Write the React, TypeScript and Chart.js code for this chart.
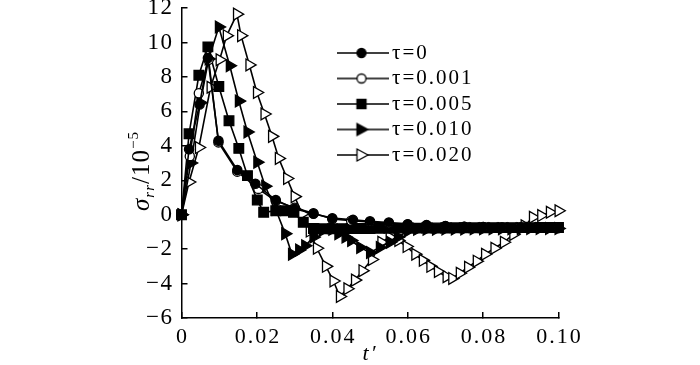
import React, { useEffect, useRef } from 'react';
import { Chart, registerables } from 'chart.js';

Chart.register(...registerables);

// ---- data ----
const SERIES_LABELS = ['τ=0', 'τ=0.001', 'τ=0.005', 'τ=0.010', 'τ=0.020'];

const T_TAU0 = [0, 0.002, 0.0048, 0.007, 0.0098, 0.0148, 0.0196, 0.025, 0.030, 0.035, 0.040, 0.0455, 0.050, 0.055, 0.060, 0.065, 0.070, 0.075, 0.080, 0.085, 0.090, 0.095, 0.100];
const V_TAU0 = [0, 3.8, 6.4, 9.1, 4.3, 2.6, 1.8, 0.85, 0.35, 0.05, -0.2, -0.3, -0.38, -0.45, -0.55, -0.6, -0.65, -0.7, -0.72, -0.74, -0.75, -0.76, -0.77];

const T_TAU001 = [0, 0.0022, 0.0046, 0.0072, 0.0098, 0.0148, 0.0204, 0.025, 0.030, 0.035, 0.040, 0.045, 0.050, 0.055, 0.060, 0.065, 0.070, 0.075, 0.080, 0.085, 0.090, 0.095, 0.100];
const V_TAU001 = [0, 3.4, 7.05, 9.0, 4.2, 2.5, 1.5, 0.8, 0.4, 0.08, -0.25, -0.35, -0.42, -0.5, -0.57, -0.62, -0.67, -0.7, -0.72, -0.74, -0.75, -0.76, -0.77];

const T_TAU005 = [0, 0.002, 0.0046, 0.007, 0.0099, 0.0126, 0.0152, 0.0175, 0.0201, 0.0218, 0.025, 0.0275, 0.0297, 0.0323, 0.035,
  0.0375, 0.040, 0.0425, 0.045, 0.0475, 0.050, 0.0525, 0.055, 0.0575, 0.060, 0.0625, 0.065, 0.0675, 0.070, 0.0725, 0.075,
  0.0775, 0.080, 0.0825, 0.085, 0.0875, 0.090, 0.0925, 0.095, 0.0975, 0.100];
const V_TAU005 = [0, 4.7, 8.1, 9.75, 7.45, 5.46, 3.85, 2.27, 0.85, 0.14, 0.23, 0.23, 0.14, -0.44, -0.8,
  -0.82, -0.82, -0.81, -0.8, -0.8, -0.8, -0.79, -0.79, -0.78, -0.78, -0.78, -0.77, -0.77, -0.77, -0.76, -0.76,
  -0.76, -0.76, -0.75, -0.75, -0.75, -0.75, -0.75, -0.74, -0.74, -0.74];

const T_TAU010 = [0, 0.0025, 0.005, 0.0072, 0.0099, 0.0128, 0.0152, 0.0175, 0.0201, 0.0222, 0.025, 0.0275, 0.0293, 0.0312, 0.0328,
  0.035, 0.0375, 0.040, 0.0416, 0.0435, 0.045, 0.0474, 0.050, 0.0526, 0.0553, 0.0574, 0.060, 0.0625, 0.065, 0.0675, 0.070,
  0.0725, 0.075, 0.0775, 0.080, 0.0825, 0.085, 0.0875, 0.090, 0.0925, 0.095, 0.0975, 0.100];
const V_TAU010 = [0, 3.0, 6.5, 9.05, 10.9, 8.65, 6.6, 4.8, 3.05, 1.65, 0.3, -1.1, -2.3, -2.05, -1.8,
  -1.3, -0.9, -0.85, -1.1, -1.3, -1.5, -1.9, -2.2, -1.9, -1.6, -1.3, -0.95, -0.85, -0.84, -0.84, -0.83,
  -0.83, -0.83, -0.82, -0.82, -0.82, -0.81, -0.81, -0.81, -0.8, -0.8, -0.8, -0.8];

const T_TAU020 = [0, 0.002, 0.0046, 0.0077, 0.0101, 0.012, 0.0147, 0.0158, 0.018, 0.020, 0.022, 0.024, 0.0258, 0.028, 0.030,
  0.032, 0.034, 0.0359, 0.0383, 0.0403, 0.042, 0.044, 0.046, 0.048, 0.0505, 0.053, 0.0552, 0.0575, 0.0597, 0.062, 0.064,
  0.066, 0.068, 0.0703, 0.0718, 0.0738, 0.076, 0.0783, 0.0805, 0.083, 0.0855, 0.088, 0.091, 0.0932, 0.0954, 0.0977, 0.100];
const V_TAU020 = [0, 1.9, 3.9, 7.4, 9.0, 10.4, 11.65, 10.4, 8.7, 7.1, 5.85, 4.55, 3.27, 2.1, 1.05,
  0.05, -0.95, -1.95, -3.0, -3.85, -4.75, -4.3, -3.8, -3.25, -2.6, -1.6, -1.3, -1.5, -1.85, -2.3, -2.65,
  -3.0, -3.3, -3.6, -3.7, -3.4, -3.05, -2.7, -2.3, -1.95, -1.6, -1.15, -0.64, -0.15, -0.05, 0.14, 0.23];

const X_TICKS = [0, 0.02, 0.04, 0.06, 0.08, 0.1];
const X_TICK_LABELS = ['0', '0.02', '0.04', '0.06', '0.08', '0.10'];
const Y_TICKS = [-6, -4, -2, 0, 2, 4, 6, 8, 10, 12];
const Y_TICK_LABELS = ['−6', '−4', '−2', '0', '2', '4', '6', '8', '10', '12'];

const FONT = "'Liberation Serif', 'Times New Roman', serif";

function pts(t: number[], v: number[]) {
  return t.map((x, i) => ({ x, y: v[i] }));
}

function legendIcon(kind: string): HTMLCanvasElement {
  const c = document.createElement('canvas');
  c.width = 54;
  c.height = 16;
  const g = c.getContext('2d') as CanvasRenderingContext2D;
  g.strokeStyle = '#000';
  g.lineWidth = 1.6;
  g.beginPath();
  g.moveTo(0, 8);
  g.lineTo(54, 8);
  g.stroke();
  const cx = 27, cy = 8;
  g.lineWidth = 1.3;
  g.beginPath();
  if (kind === 'circle' || kind === 'ocircle') g.arc(cx, cy, 4.5, 0, Math.PI * 2);
  else if (kind === 'square') g.rect(cx - 4.5, cy - 4.5, 9, 9);
  else { g.moveTo(cx + 6.5, cy); g.lineTo(cx - 4.5, cy - 6); g.lineTo(cx - 4.5, cy + 6); g.closePath(); }
  g.fillStyle = kind === 'ocircle' || kind === 'otri' ? '#fff' : '#000';
  g.fill();
  g.stroke();
  return c;
}

export default function App() {
  const ref = useRef<HTMLCanvasElement>(null);

  useEffect(() => {
    if (!ref.current) return;
    const icons = ['circle', 'ocircle', 'square', 'tri', 'otri'].map(legendIcon);

    const common = {
      borderColor: '#000',
      borderWidth: 1.6,
      pointBorderColor: '#000',
      pointBorderWidth: 1.3,
      tension: 0,
      fill: false,
      clip: false as any,
    };

    const helperPlugin = {
      id: 'helper',
      beforeDraw(chart: any) {
        chart.ctx.letterSpacing = '2px';
        const L = chart.legend;
        if (L) {
          L.left = 337;
          L.top = 38;
          L.right = 640;
          L.bottom = 260;
          L.width = 303;
          L.height = 222;
        }
      },
      afterDatasetsDraw(chart: any) {
        chart.ctx.letterSpacing = '1.5px';
      },
      afterDraw(chart: any) {
        const ctx = chart.ctx as CanvasRenderingContext2D;
        ctx.save();
        (ctx as any).letterSpacing = '1px';
        ctx.fillStyle = '#000';
        ctx.translate(141, 171);
        ctx.rotate(-Math.PI / 2);
        ctx.textBaseline = 'alphabetic';
        ctx.textAlign = 'left';
        const parts = [
          { t: 'σ', f: `italic 25px ${FONT}`, dy: 0 },
          { t: 'rr', f: `italic 15px ${FONT}`, dy: 5 },
          { t: '/10', f: `25px ${FONT}`, dy: 0 },
          { t: '−5', f: `15px ${FONT}`, dy: -11 },
        ];
        let total = 0;
        const widths = parts.map((p) => { ctx.font = p.f; const w = ctx.measureText(p.t).width; total += w; return w; });
        let x = -total / 2;
        parts.forEach((p, i) => { ctx.font = p.f; ctx.fillText(p.t, x, 8 + p.dy); x += widths[i]; });
        ctx.restore();
        (ctx as any).letterSpacing = '0px';
      },
    };

    const chart = new Chart(ref.current, {
      type: 'line',
      data: {
        datasets: [
          { ...common, label: SERIES_LABELS[0], data: pts(T_TAU0, V_TAU0), pointStyle: 'circle', pointRadius: 4.6, pointBackgroundColor: '#000' },
          { ...common, label: SERIES_LABELS[1], data: pts(T_TAU001, V_TAU001), pointStyle: 'circle', pointRadius: 4.6, pointBackgroundColor: '#fff' },
          { ...common, label: SERIES_LABELS[2], data: pts(T_TAU005, V_TAU005), pointStyle: 'rect', pointRadius: 6.8, pointBackgroundColor: '#000' },
          { ...common, label: SERIES_LABELS[3], data: pts(T_TAU010, V_TAU010), pointStyle: 'triangle', pointRotation: 90, pointRadius: 6.8, pointBackgroundColor: '#000' },
          { ...common, label: SERIES_LABELS[4], data: pts(T_TAU020, V_TAU020), pointStyle: 'triangle', pointRotation: 90, pointRadius: 6.8, pointBackgroundColor: '#fff' },
        ] as any,
      },
      options: {
        animation: false,
        responsive: false,
        devicePixelRatio: 1,
        events: [],
        layout: { padding: { left: 0, right: 141.5, top: 8, bottom: 0 } },
        plugins: {
          tooltip: { enabled: false },
          legend: {
            position: 'chartArea' as any,
            align: 'start',
            labels: {
              usePointStyle: true,
              pointStyleWidth: 40,
              padding: 4.5,
              color: '#000',
              font: { family: FONT, size: 21 },
              generateLabels: () =>
                SERIES_LABELS.map((text, i) => ({
                  text,
                  pointStyle: icons[i] as any,
                  fillStyle: '#000',
                  strokeStyle: '#000',
                  lineWidth: 0,
                  hidden: false,
                  datasetIndex: i,
                  fontColor: '#000',
                })),
            },
          },
        },
        scales: {
          x: {
            type: 'linear',
            min: 0,
            max: 0.1,
            afterBuildTicks: (s: any) => { s.ticks = X_TICKS.map((value) => ({ value })); },
            afterFit: (s: any) => { s.height = 47; s.paddingLeft = 0; s.paddingRight = 0; },
            grid: { drawOnChartArea: false, drawTicks: true, tickLength: -6, color: '#000', lineWidth: 1.5 },
            border: { display: true, color: '#000', width: 1.5 },
            ticks: {
              callback: (_v: any, i: number) => X_TICK_LABELS[i],
              color: '#000',
              font: { family: FONT, size: 22 },
              padding: 12,
              labelOffset: 1,
              maxRotation: 0,
              autoSkip: false,
            },
            title: {
              display: true,
              text: 't′',
              color: '#000',
              font: { family: FONT, size: 22, style: 'italic', lineHeight: 1 },
              padding: { top: 0, bottom: 0 },
            },
          },
          y: {
            type: 'linear',
            min: -6,
            max: 12,
            afterBuildTicks: (s: any) => { s.ticks = Y_TICKS.map((value) => ({ value })); },
            afterFit: (s: any) => { s.width = 181.5; s.paddingTop = 0; s.paddingBottom = 0; },
            grid: { drawOnChartArea: false, drawTicks: true, tickLength: -6, color: '#000', lineWidth: 1.5 },
            border: { display: true, color: '#000', width: 1.5 },
            ticks: {
              callback: (_v: any, i: number) => Y_TICK_LABELS[i],
              color: '#000',
              font: { family: FONT, size: 23 },
              padding: 14,
              z: 1,
              autoSkip: false,
            },
          },
        },
      } as any,
      plugins: [helperPlugin],
    });

    return () => chart.destroy();
  }, []);

  return (
    <div style={{ position: 'absolute', left: 0, top: 0, width: 700, height: 365, background: '#fff' }}>
      <canvas ref={ref} width={700} height={365} style={{ display: 'block', width: 700, height: 365 }} />
    </div>
  );
}
